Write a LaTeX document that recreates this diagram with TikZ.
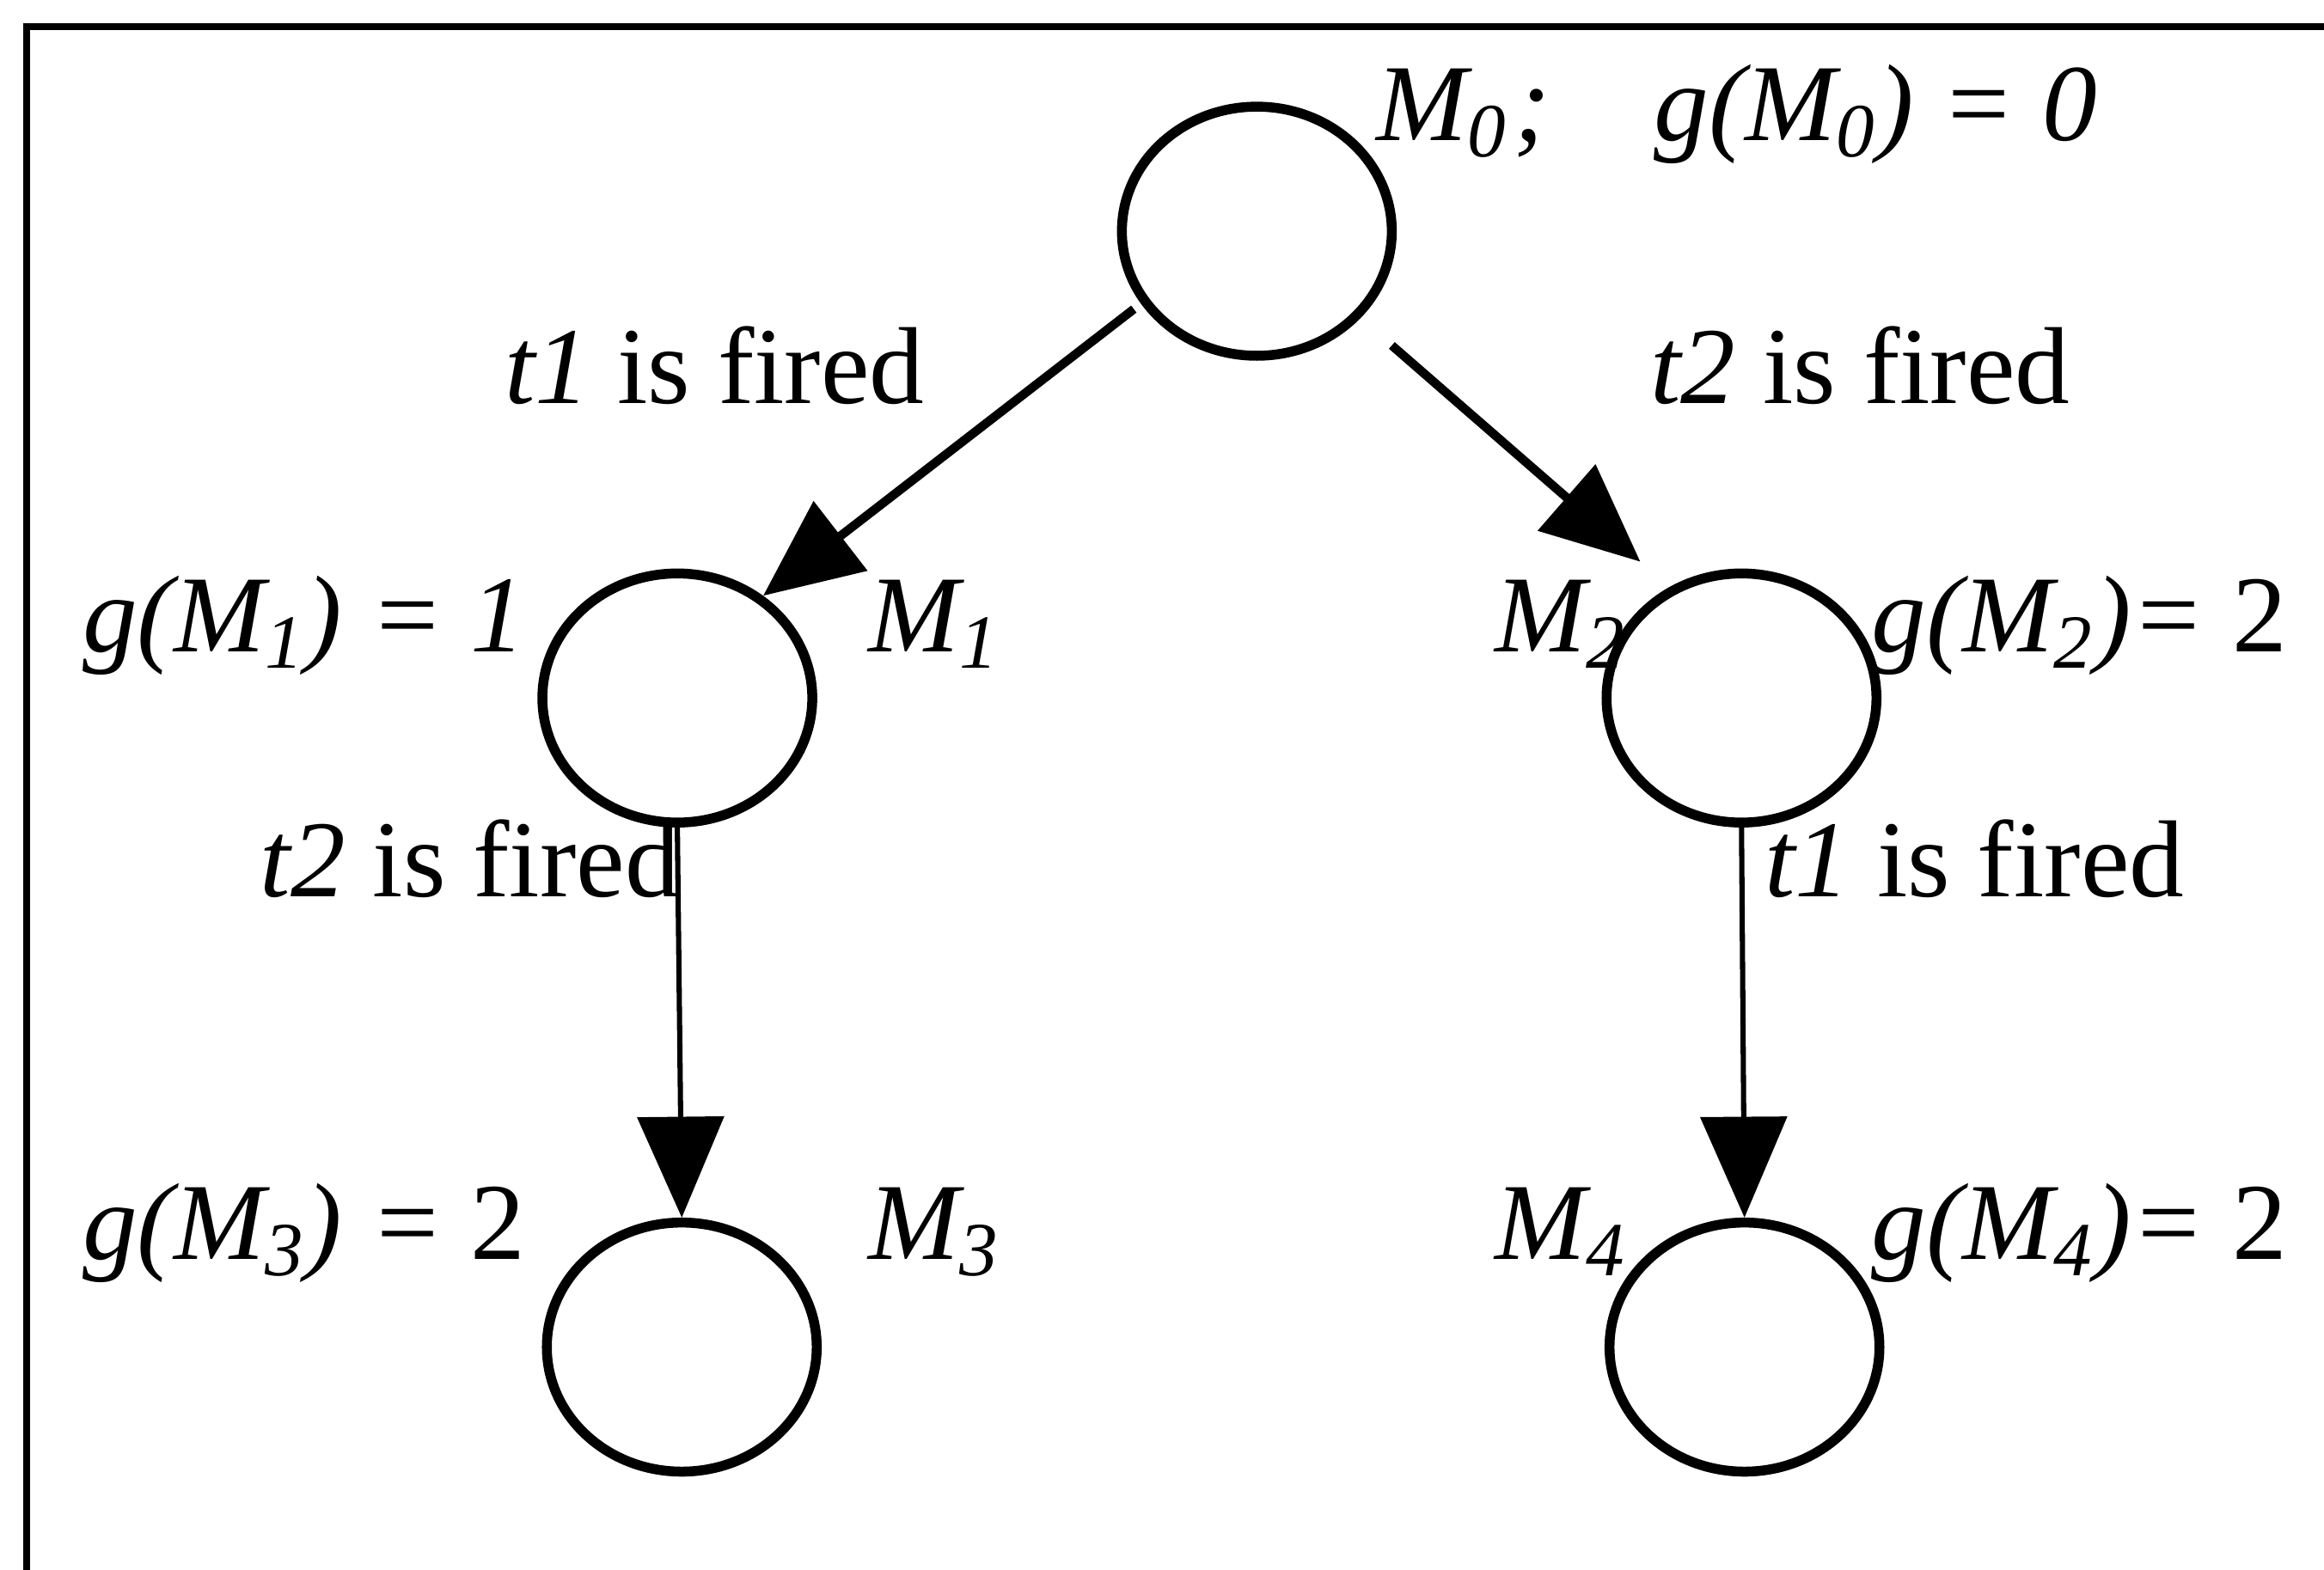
\documentclass[tikz,border=0pt]{standalone}
\usepackage{fontspec}
\setmainfont{Liberation Serif}
\usetikzlibrary{shapes.geometric,arrows.meta}
\begin{document}
\begin{tikzpicture}[x=0.01cm,y=-0.01cm,
  state/.style={draw, ellipse, line width=1.9pt, minimum width=1.82cm, minimum height=1.68cm, inner sep=0pt},
  lab/.style={anchor=base west, inner sep=0pt, font=\fontsize{21}{25}\selectfont},
  diagarrow/.style={line width=1.7pt, -{Triangle[length=0.66cm,width=0.58cm]}},
  vertarrow/.style={line width=1pt, -{Triangle[length=0.68cm,width=0.58cm]}},
  frameline/.style={line width=1.2pt, line join=miter}
]
\useasboundingbox (0,0) rectangle (1568,1059);
\draw[frameline] (18,1070) -- (18,18) -- (1580,18);

\node[state] (M0) at (848,156) {};
\node[state] (M1) at (457,471) {};
\node[state] (M2) at (1175,471) {};
\node[state] (M3) at (460,909) {};
\node[state] (M4) at (1177,909) {};

\draw[diagarrow, shorten <=0.06cm] (M0.212) -- (M1.50);
\draw[diagarrow, shorten <=0.28cm, shorten >=0.26cm] (M0.-40) -- (M2.123);
\draw[vertarrow] (M1.south) -- (M3.north);
\draw[vertarrow] (M2.south) -- (M4.north);

\node[lab] (l0) at (928,95) {\textit{M\textsubscript{0}\kern1pt;\hspace{0.95em}g(M\textsubscript{0}) = 0}};
\node[lab] (e1) at (340,272) {\textit{t1} is fired};
\node[lab] (e2) at (1113,272) {\textit{t2} is fired};
\node[lab] (g1) at (55,440) {\textit{g(M\textsubscript{1}) = 1}};
\node[lab] (n1) at (585,440) {\textit{M\textsubscript{1}}};
\node[lab] (n2) at (1008,440) {\textit{M\textsubscript{2}}};
\node[lab] (g2) at (1262,440) {\textit{g(M\textsubscript{2})=} 2};
\node[lab] (e3) at (175,605) {\textit{t2} is fired};
\node[lab] (e4) at (1190,605) {\textit{t1} is fired};
\node[lab] (g3) at (55,850) {\textit{g(M\textsubscript{3}) =} 2};
\node[lab] (n3) at (585,850) {\textit{M\textsubscript{3}}};
\node[lab] (n4) at (1008,850) {\textit{M\textsubscript{4}}};
\node[lab] (g4) at (1262,850) {\textit{g(M\textsubscript{4})=} 2};
\end{tikzpicture}
\end{document}
